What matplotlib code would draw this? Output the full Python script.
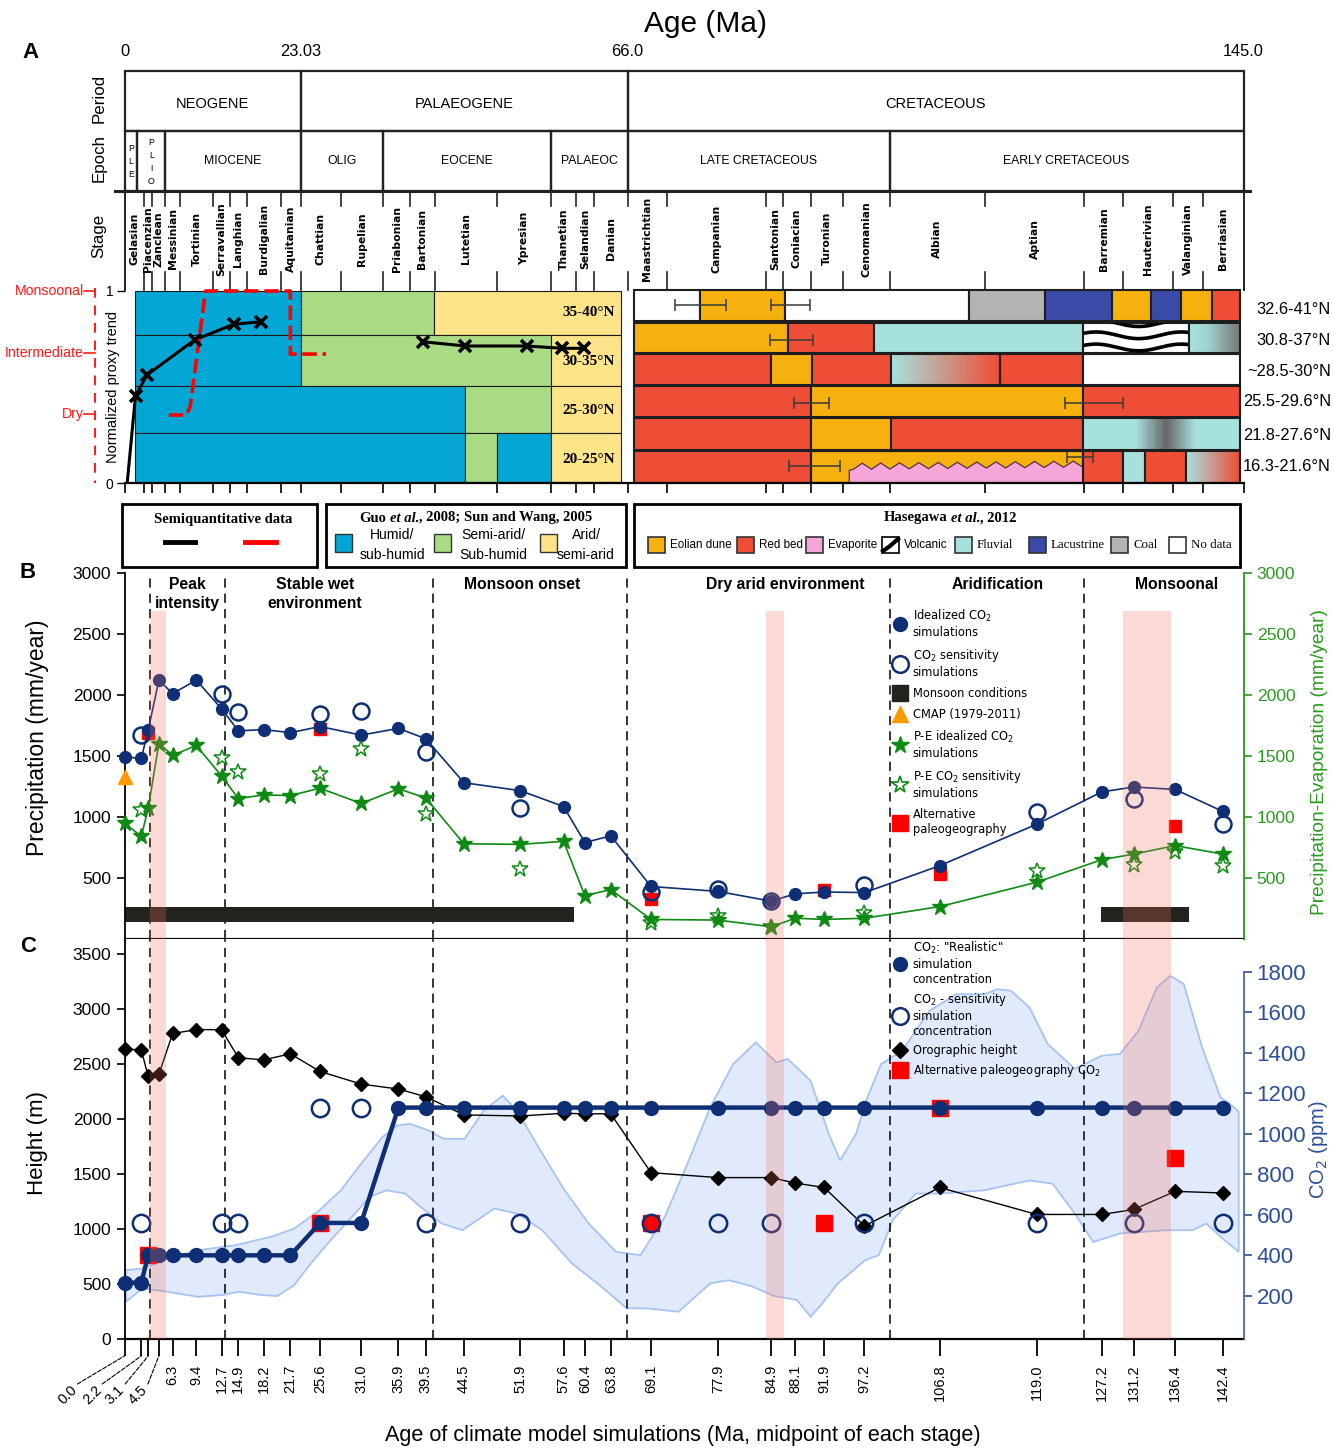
import numpy as np
import matplotlib
matplotlib.use('Agg')
import matplotlib.pyplot as plt
from matplotlib import font_manager
from matplotlib.patches import Rectangle, Polygon
from matplotlib.lines import Line2D
from matplotlib.transforms import blended_transform_factory, ScaledTranslation
from matplotlib.colors import LinearSegmentedColormap, to_rgb

_names = {f.name for f in font_manager.fontManager.ttflist}
NARROW_OK = 'Liberation Sans Narrow' in _names
NARROW = 'Liberation Sans Narrow' if NARROW_OK else 'Liberation Sans'
plt.rcParams['font.family'] = ['Liberation Sans', 'DejaVu Sans']
plt.rcParams['mathtext.fontset'] = 'dejavusans'


def nsz(s):
    return s if NARROW_OK else s * 0.84


# ---------------- data ----------------
period_names = ['NEOGENE', 'PALAEOGENE', 'CRETACEOUS']
period_bounds = [0.0, 23.03, 66.0, 145.0]
epoch_names = ['P\nL\nE', 'P\nL\nI\nO', 'MIOCENE', 'OLIG', 'EOCENE', 'PALAEOC',
               'LATE CRETACEOUS', 'EARLY CRETACEOUS']
epoch_bounds = [0.0, 1.7, 5.33, 23.03, 33.9, 56.0, 66.0, 100.5, 145.0]
stage_names = ['Gelasian', 'Piacenzian', 'Zanclean', 'Messinian', 'Tortinian',
               'Serravallian', 'Langhian', 'Burdigalian', 'Aquitanian', 'Chattian',
               'Rupelian', 'Priabonian', 'Bartonian', 'Lutetian', 'Ypresian',
               'Thanetian', 'Selandian', 'Danian', 'Maastrichtian', 'Campanian',
               'Santonian', 'Coniacian', 'Turonian', 'Cenomanian', 'Albian', 'Aptian',
               'Barremian', 'Hauterivian', 'Valanginian', 'Berriasian']
stage_bounds = [0.0, 2.58, 3.6, 5.33, 7.25, 11.63, 13.82, 15.97, 20.44, 23.03, 28.4,
                33.9, 37.4, 40.7, 48.9, 56.0, 59.2, 61.6, 66.0, 71.2, 84.3, 86.5, 90.1,
                94.4, 100.5, 112.5, 125.0, 129.9, 136.1, 139.9, 145.0]
age_marks = ['0', '23.03', '66.0', '145.0']

# Guo et al. 2008 / Sun and Wang 2005 climate zones
guo_lats = ['35-40°N', '30-35°N', '25-30°N', '20-25°N']
guo_rows = [
    [(1.4, 23.03, 'humid'), (23.03, 40.6, 'semiarid'), (40.6, 65.2, 'arid')],
    [(1.4, 23.03, 'humid'), (23.03, 55.9, 'semiarid'), (55.9, 65.2, 'arid')],
    [(1.4, 44.6, 'humid'), (44.6, 55.9, 'semiarid'), (55.9, 65.2, 'arid')],
    [(1.4, 44.6, 'humid'), (44.6, 48.8, 'semiarid'), (48.8, 55.9, 'humid'),
     (55.9, 65.2, 'arid')],
]

# Hasegawa et al. 2012 lithology
has_lats = ['32.6-41°N', '30.8-37°N', '~28.5-30°N', '25.5-29.6°N', '21.8-27.6°N',
            '16.3-21.6°N']
has_rows = [
    [(66.8, 75.5, 'nodata'), (75.5, 86.7, 'eolian'), (86.7, 110.5, 'nodata'),
     (110.5, 120.1, 'coal'), (120.1, 128.5, 'lacustrine'), (128.5, 133.4, 'eolian'),
     (133.4, 137.1, 'lacustrine'), (137.1, 141.0, 'eolian'), (141.0, 144.6, 'redbed')],
    [(66.9, 87.1, 'eolian'), (87.1, 98.5, 'redbed'), (98.5, 124.8, 'fluvial'),
     (124.8, 138.2, 'volcanic'), (138.2, 144.6, 'fluv_gray')],
    [(66.9, 84.9, 'redbed'), (84.9, 90.3, 'eolian'), (90.3, 100.7, 'redbed'),
     (100.7, 114.4, 'fluv_red'), (114.4, 124.8, 'redbed'), (124.8, 144.6, 'nodata')],
    [(66.9, 90.1, 'redbed'), (90.1, 124.8, 'eolian'), (124.8, 144.6, 'redbed')],
    [(66.9, 90.1, 'redbed'), (90.1, 100.7, 'eolian'), (100.7, 124.8, 'redbed'),
     (124.8, 144.6, 'fluv_gray_fluv')],
    [(66.9, 90.1, 'redbed'), (90.1, 124.8, 'eolian'), (124.8, 129.8, 'redbed'),
     (129.8, 132.6, 'fluvial'), (132.6, 137.8, 'redbed'), (137.8, 144.6, 'fluv_red')],
]
evaporite_span = (95.2, 124.8)
has_err_lo = [72.3, 84.9, 84.7, 87.9, 122.6, 87.3, 122.8]
has_err_hi = [79.0, 90.0, 90.4, 92.5, 129.8, 94.0, 126.1]
has_err_v = [0.926, 0.926, 0.745, 0.419, 0.419, 0.092, 0.138]

# semiquantitative proxy trends
semi_black_age = [[0.35, 1.44, 2.98, 9.16, 14.27, 17.9], [39.1, 44.7, 52.8, 57.4, 60.3]]
semi_black_val = [[0.0, 0.456, 0.565, 0.745, 0.827, 0.840],
                  [0.736, 0.714, 0.714, 0.702, 0.702]]
semi_red_age = [5.8, 8.1, 8.6, 10.6, 21.7, 21.7, 26.4]
semi_red_val = [0.355, 0.355, 0.40, 1.0, 1.0, 0.672, 0.672]

# climate model simulations
sim_age = [0.0, 2.2, 3.1, 4.5, 6.3, 9.4, 12.7, 14.9, 18.2, 21.7, 25.6, 31.0, 35.9, 39.5,
           44.5, 51.9, 57.6, 60.4, 63.8, 69.1, 77.9, 84.9, 88.1, 91.9, 97.2, 106.8, 119.0,
           127.2, 131.2, 136.4, 142.4]
precip_ideal = [1490, 1480, 1710, 2120, 2010, 2120, 1885, 1705, 1715, 1690, 1740, 1670,
                1725, 1640, 1280, 1215, 1085, 790, 845, 430, 390, 310, 370, 385, 380, 600,
                940, 1205, 1245, 1225, 1045]
pe_ideal = [950, 840, 1070, 1600, 1505, 1585, 1335, 1150, 1180, 1175, 1235, 1110, 1230,
            1155, 780, 775, 800, 355, 405, 160, 155, 100, 170, 160, 170, 265, 465, 650,
            695, 765, 695]
sens_age = [2.2, 12.7, 14.9, 25.6, 31.0, 39.5, 51.9, 69.1, 77.9, 84.9, 97.2, 119.0,
            131.2, 142.4]
precip_sens = [1670, 2010, 1860, 1840, 1870, 1530, 1070, 385, 410, 315, 440, 1040, 1145, 945]
pe_sens_age = [2.2, 12.7, 14.9, 25.6, 31.0, 39.5, 51.9, 69.1, 77.9, 84.9, 97.2, 119.0,
               131.2, 136.4, 142.4]
pe_sens = [1060, 1485, 1370, 1355, 1555, 1025, 570, 130, 190, 95, 210, 560, 605, 715, 600]
alt_age = [3.1, 25.6, 69.1, 91.9, 106.8, 136.4]
precip_alt = [1690, 1720, 325, 400, 535, 925]
cmap_age = [0.0]
cmap_precip = [1330]
monsoon_start = [0.0, 127.1]
monsoon_end = [59.0, 138.1]
monsoon_lo, monsoon_hi = 140, 260

height = [2640, 2630, 2390, 2410, 2780, 2815, 2815, 2560, 2540, 2595, 2435, 2320, 2275,
          2205, 2040, 2030, 2055, 2050, 2050, 1515, 1470, 1470, 1420, 1380, 1030, 1380,
          1135, 1135, 1180, 1345, 1330]
co2_real = [265, 265, 400, 400, 400, 400, 400, 400, 400, 400, 560, 560, 1130, 1130, 1130,
            1130, 1130, 1130, 1130, 1130, 1130, 1130, 1130, 1130, 1130, 1130, 1130, 1130,
            1130, 1130, 1130]
co2_sens = [560, 560, 560, 1130, 1130, 560, 560, 560, 560, 560, 560, 560, 560, 560]
co2_alt = [400, 560, 560, 560, 1130, 880]

# proxy CO2 envelope (ppm)
co2_up_age = [0.2, 2.4, 5.1, 9.6, 14.5, 19.4, 22.2, 25.5, 28.3, 31.0, 33.8, 35.7, 37.4,
              39.9, 41.8, 44.6, 47.1, 49.6, 51.5, 54.3, 57.6, 60.9, 64.5, 67.7, 70.9, 73.9,
              76.9, 79.9, 82.9, 85.6, 87.1, 90.1, 92.5, 94.0, 96.1, 97.6, 99.4, 102.1,
              105.5, 108.9, 112.4, 114.1, 115.8, 118.1, 120.4, 123.8, 125.0, 127.2, 129.5,
              131.8, 134.1, 135.8, 137.5, 139.8, 142.1, 143.8, 144.4]
co2_up = [327, 335, 376, 425, 450, 494, 532, 622, 720, 853, 984, 1041, 1050, 1017, 976, 976,
          1115, 1189, 1115, 934, 729, 557, 417, 401, 589, 853, 1132, 1345, 1452, 1353, 1370,
          1263, 1000, 869, 1000, 1181, 1345, 1411, 1608, 1690, 1690, 1715, 1707, 1624, 1444,
          1321, 1345, 1386, 1395, 1510, 1723, 1781, 1740, 1427, 1181, 1132, 1109]
co2_lo_age = [0.2, 2.4, 5.6, 9.6, 12.8, 15.0, 17.8, 20.0, 22.2, 24.4, 26.6, 29.4, 32.1,
              34.3, 36.8, 38.8, 41.6, 44.3, 48.5, 51.5, 54.8, 58.7, 62.6, 65.9, 68.5, 72.7,
              76.9, 79.3, 82.3, 85.3, 88.3, 90.1, 91.3, 93.7, 97.3, 99.1, 100.9, 103.8,
              106.6, 112.4, 118.1, 121.0, 123.8, 126.1, 129.5, 132.4, 135.2, 138.6, 140.3,
              142.6, 144.4]
co2_lo = [171, 237, 220, 195, 204, 220, 204, 199, 253, 360, 458, 573, 688, 721, 705, 639,
          557, 524, 631, 606, 524, 360, 244, 138, 138, 121, 261, 277, 248, 199, 179, 97, 146,
          261, 376, 401, 573, 705, 705, 721, 770, 754, 606, 466, 508, 516, 524, 524, 557,
          475, 417]

phase_bounds = [3.36, 13.2, 40.5, 65.9, 100.5, 125.0]
phase_labels = ['Peak\nintensity', 'Stable wet\nenvironment', 'Monsoon onset',
                'Dry arid environment', 'Aridification', 'Monsoonal']
phase_label_age = [8.2, 24.9, 52.1, 86.8, 114.1, 136.6]
wet_bands = [(3.36, 5.45), (84.2, 86.6), (129.8, 135.9)]
band_top_b = 2690

# ---------------- styles ----------------
NAVY = '#0e2f75'
GREEN = '#0f8a14'
GREEN_AX = '#2a9a1e'
BLUE_AX = '#2d4f9a'
RED = '#ff0000'
ORANGE = '#ff9900'
BAR = '#24231e'
BAND = '#f36f5f'
EDGE = '#1e1e1e'
col = {'humid': '#02a7d5', 'semiarid': '#a9db85', 'arid': '#fde488',
       'eolian': '#f6b10f', 'redbed': '#ee4d36', 'evaporite': '#f5a5d8',
       'fluvial': '#a6e1de', 'lacustrine': '#3a4aa6', 'coal': '#b3b3b3',
       'nodata': 'white'}
grads = {'fluv_gray': [(0, '#a6e1de'), (0.35, '#a0d4d2'), (1, '#777777')],
         'fluv_red': [(0, '#a6e1de'), (1, '#ee4d36')],
         'fluv_gray_fluv': [(0, '#a6e1de'), (0.33, '#a6e1de'), (0.53, '#666666'),
                            (0.72, '#a6e1de'), (1, '#a6e1de')]}

W, H = 1334, 1449
X0, AXW = 124.5, 1119.0

bp_age = np.array([0.0, 23.03, 66.0, 100.5, 145.0])
bp_pix = np.array([0.0, 176.0, 503.0, 765.0, 1119.0])


def age_to_pix(a):
    a = np.asarray(a, dtype=float)
    out = np.interp(a, bp_age, bp_pix)
    out = np.where(a < bp_age[0], bp_pix[0] + (a - bp_age[0]) * 7.64, out)
    out = np.where(a > bp_age[-1], bp_pix[-1] + (a - bp_age[-1]) * 7.96, out)
    return out


def pix_to_age(p):
    p = np.asarray(p, dtype=float)
    out = np.interp(p, bp_pix, bp_age)
    out = np.where(p < bp_pix[0], bp_age[0] + (p - bp_pix[0]) / 7.64, out)
    out = np.where(p > bp_pix[-1], bp_age[-1] + (p - bp_pix[-1]) / 7.96, out)
    return out


def mid(a0, a1):
    return float(pix_to_age(np.mean(age_to_pix([a0, a1]))))


def fx(p):
    return p / W


def fy(p):
    return 1 - p / H


fig = plt.figure(figsize=(W / 100, H / 100), dpi=100)


def frect(x0, y0, x1, y1, **kw):
    fig.add_artist(Rectangle((fx(x0), fy(y1)), (x1 - x0) / W, (y1 - y0) / H,
                             transform=fig.transFigure, **kw))


def fline(xs, ys, **kw):
    fig.add_artist(Line2D([fx(x) for x in xs], [fy(y) for y in ys],
                          transform=fig.transFigure, **kw))


def ftext(x, y, s, **kw):
    return fig.text(fx(x), fy(y), s, **kw)


def rich(x, y, parts, **kw):
    r = fig.canvas.get_renderer()
    texts = [fig.text(0, 0, s, fontstyle=st, va='center', ha='left', **kw)
             for s, st in parts]
    widths = [t.get_window_extent(r).width for t in texts]
    gap = 3.5
    pos = x - (sum(widths) + gap) / 2
    for i, (t, w) in enumerate(zip(texts, widths)):
        t.set_position((fx(pos), fy(y)))
        pos += w + (gap if i == 0 else 0)


# ---------------- axes ----------------
A_TOP = 71.0
A_BOT = 483.3
V_PX = 192.3
axA = fig.add_axes([fx(X0), fy(A_BOT), AXW / W, (A_BOT - A_TOP) / H])
axB = fig.add_axes([fx(X0), fy(939.0), AXW / W, (939.0 - 572.7) / H])
axC = fig.add_axes([fx(X0), fy(1339.3), AXW / W, (1339.3 - 939.0) / H])
for ax in (axA, axB, axC):
    ax.set_xscale('function', functions=(age_to_pix, pix_to_age))
    ax.set_xlim(0, 145)
axA.set_ylim(0, (A_BOT - A_TOP) / V_PX)

# ---------------- panel A ----------------
PERIOD_TOP, EPOCH_TOP, STAGE_TOP, STAGE_BOT = 2.144, 1.832, 1.521, 1.005

for i, name in enumerate(period_names):
    a0, a1 = period_bounds[i], period_bounds[i + 1]
    axA.add_patch(Rectangle((a0, EPOCH_TOP), a1 - a0, PERIOD_TOP - EPOCH_TOP, fc='none',
                            ec='#222222', lw=1.6, clip_on=False))
    axA.text(mid(a0, a1), 1.972, name, ha='center', va='center', fontsize=nsz(12.5),
             family=NARROW)
for i, name in enumerate(epoch_names):
    a0, a1 = epoch_bounds[i], epoch_bounds[i + 1]
    axA.add_patch(Rectangle((a0, STAGE_TOP), a1 - a0, EPOCH_TOP - STAGE_TOP, fc='none',
                            ec='#222222', lw=1.6, clip_on=False))
    if '\n' in name:
        axA.text(mid(a0, a1), 1.672, name, ha='center', va='center', fontsize=6.3,
                 linespacing=1.55, family=NARROW)
    else:
        axA.text(mid(a0, a1), 1.676, name, ha='center', va='center', fontsize=nsz(10.5),
                 family=NARROW)
axA.plot([-1.2, 145.8], [STAGE_TOP, STAGE_TOP], color='#222222', lw=2.2, clip_on=False)
axA.plot([0, 0], [STAGE_BOT, STAGE_TOP], color='#222222', lw=1.4, clip_on=False)
axA.plot([145, 145], [STAGE_BOT, STAGE_TOP], color='#222222', lw=1.4, clip_on=False)
for b in stage_bounds[1:-1]:
    axA.plot([b, b], [STAGE_TOP, 1.442], color='#222222', lw=1.2, clip_on=False)
    axA.plot([b, b], [1.099, STAGE_BOT], color='#222222', lw=1.2, clip_on=False)
for i, name in enumerate(stage_names):
    axA.text(mid(stage_bounds[i], stage_bounds[i + 1]), 1.272, name, rotation=90,
             ha='center', va='center', fontsize=7.8, family='DejaVu Sans',
             fontweight='bold')
for s in age_marks:
    axA.text(float(s), 2.243, s, ha='center', va='center', fontsize=nsz(14), family=NARROW)

tA = blended_transform_factory(axA.transAxes, axA.transData)
for s, v in (('Period', 2.0), ('Epoch', 1.694), ('Stage', 1.286)):
    axA.text(-0.0228, v, s, transform=tA, rotation=90, ha='center', va='center',
             fontsize=nsz(14.5), family=NARROW)
axA.text(-0.0103, 0.5, 'Normalized proxy trend', transform=tA, rotation=90,
         ha='center', va='center', fontsize=nsz(12.5), family=NARROW)
for s, v in (('Monsoonal', 1.0), ('Intermediate', 0.676), ('Dry', 0.36)):
    axA.text(-0.0365, v, s, transform=tA, ha='right', va='center', color='#ff1a1a',
             fontsize=10.2 if not NARROW_OK else 13, family=NARROW)
    axA.plot([-0.0358, -0.0265], [v, v], transform=tA, color='#ff1a1a', lw=1.2,
             clip_on=False)
axA.plot([-0.0265, -0.0265], [1.015, 0.0], transform=tA, color='#ff1a1a', lw=1.4,
         ls=(0, (5, 4)), clip_on=False)

# Guo blocks
guo_edges = [1.0, 0.770, 0.506, 0.260, 0.005]
for r, row in enumerate(guo_rows):
    y0, y1 = guo_edges[r + 1], guo_edges[r]
    for a0, a1, kind in row:
        axA.add_patch(Rectangle((a0, y0), a1 - a0, y1 - y0, fc=col[kind], ec='#1a1a1a',
                                lw=0.8, zorder=1))
for lab, v in zip(guo_lats, [0.887, 0.632, 0.381, 0.126]):
    axA.text(64.3, v, lab, ha='right', va='center', fontsize=11, family='Liberation Serif',
             fontweight='bold', zorder=6)

# Hasegawa blocks
has_top = [1.005, 0.836, 0.671, 0.506, 0.339, 0.168]
has_bot = [0.842, 0.678, 0.512, 0.345, 0.175, 0.003]
for r, row in enumerate(has_rows):
    y0, y1 = has_bot[r], has_top[r]
    for a0, a1, kind in row:
        if kind in grads:
            cm = LinearSegmentedColormap.from_list(
                kind, [(p, to_rgb(c)) for p, c in grads[kind]])
            edges = np.linspace(a0, a1, 61)
            for k in range(60):
                axA.add_patch(Rectangle((edges[k], y0), edges[k + 1] - edges[k] + 0.02,
                                        y1 - y0, fc=cm(k / 59), ec='none', lw=0,
                                        antialiased=False, zorder=1))
            axA.add_patch(Rectangle((a0, y0), a1 - a0, y1 - y0, fc='none', ec=EDGE,
                                    lw=1.5, zorder=2))
        elif kind == 'volcanic':
            rect = Rectangle((a0, y0), a1 - a0, y1 - y0, fc='white', ec=EDGE, lw=1.5,
                             zorder=1)
            axA.add_patch(rect)
            xs = np.linspace(a0, a1, 150)
            ph = (xs - a0) / (a1 - a0) * 2 * np.pi * 1.25
            for frac in (0.98, 0.58, 0.18):
                ln, = axA.plot(xs, y0 + (y1 - y0) * (frac + 0.11 * np.sin(ph + 0.6)),
                               color='k', lw=2.6, zorder=1.5)
                ln.set_clip_path(rect)
        else:
            axA.add_patch(Rectangle((a0, y0), a1 - a0, y1 - y0, fc=col[kind], ec=EDGE,
                                    lw=1.5, zorder=1))
# evaporite with zigzag top (row 6)
e0, e1 = evaporite_span
zx = np.linspace(e0 + 0.5, e1, 25)
zy = np.where(np.arange(25) % 2 == 0, 0.072, 0.104) + np.linspace(0, 0.012, 25)
poly = [(e0, has_bot[5]), (e0, 0.068)] + list(zip(zx, zy)) + [(e1, has_bot[5])]
axA.add_patch(Polygon(poly, closed=True, fc=col['evaporite'], ec='#5a3040', lw=0.9,
                      zorder=1.6))
axA.add_patch(Rectangle((90.1, has_bot[5]), 34.7, has_top[5] - has_bot[5], fc='none',
                        ec=EDGE, lw=1.5, zorder=2))
for lo, hi, v in zip(has_err_lo, has_err_hi, has_err_v):
    axA.errorbar([(lo + hi) / 2], [v], xerr=[(hi - lo) / 2], fmt='none', ecolor='#3a3a3a',
                 elinewidth=1.1, capsize=4, capthick=1.1, zorder=4)
for lab, v in zip(has_lats, [0.905, 0.745, 0.579, 0.423, 0.251, 0.085]):
    axA.text(1.0782, v, lab, transform=tA, ha='right', va='center', fontsize=11.8)

# proxy trends
for xa, va_ in zip(semi_black_age, semi_black_val):
    axA.plot(xa, va_, color='k', lw=2.2, zorder=5)
axA.plot(semi_black_age[0][1:], semi_black_val[0][1:], ls='none', marker='x', ms=9,
         mew=2.6, color='k', zorder=6)
axA.plot(semi_black_age[1], semi_black_val[1], ls='none', marker='x', ms=9, mew=2.6,
         color='k', zorder=6)
axA.plot(semi_red_age, semi_red_val, color=RED, lw=2.6, ls=(0, (4, 1.6)), zorder=5)

for s in ('left', 'right', 'top'):
    axA.spines[s].set_visible(False)
axA.spines['bottom'].set_linewidth(1.6)
axA.set_xticks(stage_bounds)
axA.tick_params(axis='x', length=7, width=1.2, direction='out', labelbottom=False)
axA.set_yticks([0, 1])
axA.set_yticklabels(['0', '1'])
axA.tick_params(axis='y', length=6, width=1.0, direction='out', labelsize=10, pad=2)

# panel A legend boxes
frect(122, 504, 317, 567, fill=False, ec='k', lw=2)
ftext(223, 519, 'Semiquantitative data', ha='center', va='center', fontsize=10.5,
      family='Liberation Serif', fontweight='bold')
fline([165, 195], [542, 542], color='k', lw=3.5)
fline([245, 260], [542, 542], color=RED, lw=3.5)
fline([263, 276], [542, 542], color=RED, lw=3.5)

frect(326, 504, 626, 567, fill=False, ec='k', lw=2)
rich(476, 518, [('Guo', 'normal'), ('et al.', 'italic'),
                (', 2008; Sun and Wang, 2005', 'normal')],
     fontsize=10.5, family='Liberation Serif', fontweight='bold')
for (x0, x1), kind, l1, l2, tx in (((335, 352), 'humid', 'Humid/', 'sub-humid', 392),
                                  ((434, 451), 'semiarid', 'Semi-arid/', 'Sub-humid', 493),
                                  ((540, 557), 'arid', 'Arid/', 'semi-arid', 586)):
    frect(x0, 534, x1, 552, fc=col[kind], ec='#333333', lw=1)
    ftext(tx, 535, l1, ha='center', va='center', fontsize=nsz(12), family=NARROW)
    ftext(tx, 555, l2, ha='center', va='center', fontsize=nsz(12), family=NARROW)

frect(634, 504, 1240, 567, fill=False, ec='k', lw=2)
rich(950, 518, [('Hasegawa', 'normal'), ('et al.', 'italic'), (', 2012', 'normal')],
     fontsize=10.5, family='Liberation Serif', fontweight='bold')
has_leg = [('eolian', 648, 'Eolian dune', 'sans'), ('redbed', 737, 'Red bed', 'sans'),
           ('evaporite', 806, 'Evaporite', 'sans'), ('volcanic', 882, 'Volcanic', 'sans'),
           ('fluvial', 955, 'Fluvial', 'serif'), ('lacustrine', 1029, 'Lacustrine', 'serif'),
           ('coal', 1111, 'Coal', 'serif'), ('nodata', 1169, 'No data', 'serif')]
for kind, x0, lab, fam in has_leg:
    if kind == 'volcanic':
        frect(x0, 537, x0 + 17, 553, fc='white', ec='k', lw=1.2)
        fline([x0 + 1, x0 + 8, x0 + 16], [551, 546, 539], color='k', lw=3)
    else:
        frect(x0, 537, x0 + 17, 553, fc=col[kind], ec='#333333', lw=1.2)
    if fam == 'sans':
        ftext(x0 + 22, 545, lab, ha='left', va='center', fontsize=nsz(10), family=NARROW)
    else:
        ftext(x0 + 22, 545, lab, ha='left', va='center', fontsize=9.3,
              family='Liberation Serif')

# ---------------- panel B ----------------
axB.set_ylim(0, 3000)
axB2 = axB.twinx()
axB2.set_ylim(0, 3000)
axB.set_yticks(np.arange(500, 3001, 500))
axB2.set_yticks(np.arange(500, 3001, 500))
for s in ('top', 'right'):
    axB.spines[s].set_visible(False)
for s in ('top', 'left', 'bottom'):
    axB2.spines[s].set_visible(False)
axB.spines['left'].set_linewidth(1.3)
axB.spines['bottom'].set_linewidth(1.6)
axB2.spines['right'].set_color(GREEN_AX)
axB2.spines['right'].set_linewidth(1.3)
axB.tick_params(axis='x', bottom=False, labelbottom=False)
axB.tick_params(axis='y', length=6, width=1.2, labelsize=12.6, direction='out')
axB2.tick_params(axis='y', length=6, width=1.2, labelsize=12.6, direction='out',
                 colors=GREEN_AX)

for a in phase_bounds:
    axB.axvline(a, color='k', lw=1.1, ls=(0, (6, 4)), zorder=1)
for lab, a in zip(phase_labels, phase_label_age):
    axB.text(a, 2965, lab, ha='center', va='top', fontsize=11.3, fontweight='bold',
             linespacing=1.35)
axB.broken_barh([(s, e - s) for s, e in zip(monsoon_start, monsoon_end)],
                (monsoon_lo, monsoon_hi - monsoon_lo), facecolor=BAR, zorder=2)
axB.plot(alt_age, precip_alt, ls='none', marker='s', ms=9, color=RED, zorder=3,
         clip_on=False)
axB.plot(sim_age, precip_ideal, '-o', color=NAVY, lw=1.2, ms=8.5, zorder=4, clip_on=False)
axB.plot(sens_age, precip_sens, ls='none', marker='o', ms=11.5, mfc='none', mec=NAVY,
         mew=1.8, zorder=5, clip_on=False)
axB.plot(cmap_age, cmap_precip, ls='none', marker='^', ms=10, color=ORANGE, zorder=5,
         clip_on=False)
axB2.plot(sim_age, pe_ideal, '-*', color=GREEN, lw=1.2, ms=12, zorder=4, clip_on=False)
axB2.plot(pe_sens_age, pe_sens, ls='none', marker='*', ms=12, mfc='none', mec=GREEN,
          mew=1.1, zorder=4, clip_on=False)
for a0, a1 in wet_bands:
    axB2.axvspan(a0, a1, ymin=0, ymax=band_top_b / 3000, color=BAND, alpha=0.25, lw=0,
                 zorder=10)

hB = [Line2D([], [], ls='none', marker='o', ms=10, color=NAVY),
      Line2D([], [], ls='none', marker='o', ms=12, mfc='none', mec=NAVY, mew=1.8),
      Line2D([], [], ls='none', marker='s', ms=11, color=BAR),
      Line2D([], [], ls='none', marker='^', ms=11, color=ORANGE),
      Line2D([], [], ls='none', marker='*', ms=13, color=GREEN),
      Line2D([], [], ls='none', marker='*', ms=13, mfc='none', mec=GREEN, mew=1.2),
      Line2D([], [], ls='none', marker='s', ms=11, color=RED)]
lB = ['Idealized CO$_2$\nsimulations', 'CO$_2$ sensitivity\nsimulations',
      'Monsoon conditions', 'CMAP (1979-2011)', 'P-E idealized CO$_2$\nsimulations',
      'P-E CO$_2$ sensitivity\nsimulations', 'Alternative\npaleogeography']
axB2.legend(hB, lB, loc='upper left', bbox_to_anchor=(0.688, 0.905), frameon=False,
            prop={'family': 'DejaVu Sans', 'size': 8.3}, handlelength=1.0,
            handletextpad=0.6, labelspacing=0.7, borderaxespad=0, borderpad=0)

# ---------------- panel C ----------------
axC.set_ylim(0, 3639)
axC2 = axC.twinx()
axC2.set_ylim(-15, 1963)
axC.set_yticks(np.arange(0, 3501, 500))
axC2.set_yticks(np.arange(200, 1801, 200))
for s in ('top', 'right'):
    axC.spines[s].set_visible(False)
for s in ('top', 'left', 'bottom'):
    axC2.spines[s].set_visible(False)
axC.spines['left'].set_linewidth(1.3)
axC.spines['bottom'].set_linewidth(1.6)
axC2.spines['right'].set_color('#4a68ad')
axC2.spines['right'].set_linewidth(1.3)
axC2.spines['right'].set_bounds(-15, 1800)
axC.tick_params(axis='y', length=6, width=1.2, labelsize=12.6, direction='out')
axC2.tick_params(axis='y', length=6, width=1.2, labelsize=16, direction='out',
                 colors=BLUE_AX)
axC.set_xticks(sim_age)
axC.set_xticklabels(['' if a < 6 else f'{a:.1f}' for a in sim_age])
axC.tick_params(axis='x', length=12, width=1.3, direction='out', labelsize=10.5,
                labelrotation=90, pad=6)

axC.fill(np.r_[co2_up_age, co2_lo_age[::-1]], np.r_[co2_up, co2_lo[::-1]],
         transform=axC2.transData, fc='#e1eafc', ec='#a8c3f3', lw=1.3, zorder=0.5)
for a in phase_bounds:
    axC.axvline(a, color='k', lw=1.1, ls=(0, (6, 4)), zorder=1)
axC.plot(sim_age, height, '-D', color='k', lw=1.0, ms=7, zorder=3, clip_on=False)
axC2.plot(alt_age, co2_alt, ls='none', marker='s', ms=11, color=RED, zorder=2,
          clip_on=False)
axC2.plot(sim_age, co2_real, '-o', color=NAVY, lw=3.2, ms=10, zorder=3, clip_on=False)
axC2.plot(sens_age, co2_sens, ls='none', marker='o', ms=12.5, mfc='none', mec=NAVY,
          mew=1.8, zorder=4, clip_on=False)
for a0, a1 in wet_bands:
    axC2.axvspan(a0, a1, color=BAND, alpha=0.25, lw=0, zorder=10)

hC = [Line2D([], [], ls='none', marker='o', ms=10, color=NAVY),
      Line2D([], [], ls='none', marker='o', ms=12, mfc='none', mec=NAVY, mew=1.8),
      Line2D([], [], ls='none', marker='D', ms=8, color='k'),
      Line2D([], [], ls='none', marker='s', ms=11, color=RED)]
lC = ['CO$_2$: "Realistic"\nsimulation\nconcentration',
      'CO$_2$ - sensitivity\nsimulation\nconcentration',
      'Orographic height', 'Alternative paleogeography CO$_2$']
axC2.legend(hC, lC, loc='upper left', bbox_to_anchor=(0.688, 0.997), frameon=False,
            prop={'family': 'DejaVu Sans', 'size': 8.3}, handlelength=1.0,
            handletextpad=0.6, labelspacing=0.45, borderaxespad=0, borderpad=0)

# fanned labels for the crowded young ages
tt = blended_transform_factory(axC.transData, axC.transAxes) + \
    ScaledTranslation(0, -12 / 72, fig.dpi_scale_trans)
fan_dx = [-47, -39, -23, -11]
for a, dx in zip(sim_age[:4], fan_dx):
    axC.annotate('', xy=(a, 0), xycoords=tt, xytext=(dx, -28), textcoords='offset pixels',
                 arrowprops=dict(arrowstyle='-', linestyle='--', lw=0.8, color='k',
                                 shrinkA=0, shrinkB=0), annotation_clip=False)
    axC.annotate(f'{a:.1f}', xy=(a, 0), xycoords=tt, xytext=(dx + 2, -27),
                 textcoords='offset pixels', rotation=45, ha='right', va='top',
                 fontsize=10.5, annotation_clip=False)

# ---------------- figure texts ----------------
ftext(705, 24, 'Age (Ma)', ha='center', va='center', fontsize=21.5)
ftext(30, 52, 'A', ha='center', va='center', fontsize=16, fontweight='bold')
ftext(28, 572, 'B', ha='center', va='center', fontsize=16, fontweight='bold')
ftext(28, 946, 'C', ha='center', va='center', fontsize=16, fontweight='bold')
ftext(38, 738, 'Precipitation (mm/year)', rotation=90, ha='center', va='center',
      fontsize=16.5)
ftext(38, 1143, 'Height (m)', rotation=90, ha='center', va='center', fontsize=16)
ftext(1320, 762, 'Precipitation-Evaporation (mm/year)', rotation=90, ha='center',
      va='center', fontsize=13.8, color=GREEN_AX)
ftext(1318, 1150, 'CO$_2$ (ppm)', rotation=90, ha='center', va='center', fontsize=14.5,
      color=BLUE_AX)
ftext(683, 1436, 'Age of climate model simulations (Ma, midpoint of each stage)',
      ha='center', va='center', fontsize=nsz(18.5), family=NARROW)

fig.savefig('out.png', dpi=100)
plt.close(fig)
